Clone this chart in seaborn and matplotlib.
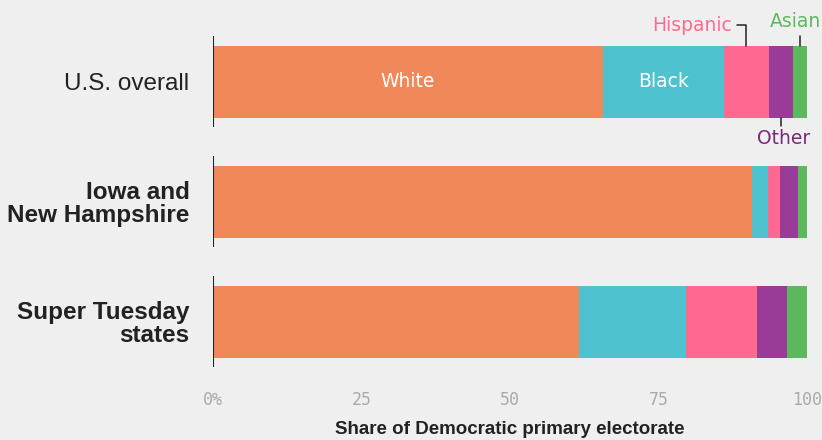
import pandas as pd
import numpy as np
import seaborn as sns
import matplotlib.pyplot as plt

# data (percent of Democratic primary electorate)
regions = ['U.S. overall', 'Iowa and\nNew Hampshire', 'Super Tuesday\nstates']
groups = ['White', 'Black', 'Hispanic', 'Other', 'Asian']
white = [65.6, 90.7, 61.7]
black = [20.4, 2.8, 17.9]
hispanic = [7.6, 2.0, 12.0]
other = [4.1, 3.0, 5.1]
asian = [2.3, 1.5, 3.3]
xticks = [0, 25, 50, 75, 100]
xtick_labels = ['0%', '25', '50', '75', '100']

colors = {'White': '#f0885a', 'Black': '#4ec3cf', 'Hispanic': '#ff6890',
          'Other': '#983c98', 'Asian': '#5cb85c'}
bg = '#efefef'

df = pd.DataFrame({'region': regions, 'White': white, 'Black': black,
                   'Hispanic': hispanic, 'Other': other, 'Asian': asian})
cum = df[groups].cumsum(axis=1)
cum['region'] = df['region']

sns.set_style('white')
plt.rcParams['font.family'] = ['Liberation Sans', 'DejaVu Sans']

fig = plt.figure(figsize=(8.22, 4.40), dpi=100, facecolor=bg)
ax = fig.add_axes([213/822, 1-372/440, (807-213)/822, (372-30)/440])
ax.set_facecolor(bg)

# draw from the longest cumulative segment down to White
for g in groups[::-1]:
  sns.barplot(data=cum, x=g, y='region', color=colors[g], orient='h',
              width=0.6, saturation=1, linewidth=0, ax=ax, zorder=2)

ax.set_xlim(0, 100)
ax.set_ylim(2.42, -0.43)
rows = np.arange(len(regions))
ax.vlines(np.zeros(len(regions)), rows-0.38, rows+0.38, color='#222222', lw=1.5, zorder=3)

for s in ax.spines.values():
  s.set_visible(False)

ax.set_xticks(xticks)
ax.set_xticklabels(xtick_labels, family='DejaVu Sans Mono', fontsize=12, color='#aaaaaa')
ax.tick_params(axis='x', length=0, pad=14)
ax.tick_params(axis='y', length=0, pad=17)
ax.set_xlabel('Share of Democratic primary electorate', fontsize=13.5,
              fontweight='bold', color='#222222', labelpad=8)
ax.set_ylabel('')
for i, lab in enumerate(ax.get_yticklabels()):
  lab.set_fontsize(17.5)
  lab.set_color('#222222')
  lab.set_linespacing(1.0)
  if i > 0:
    lab.set_fontweight('bold')

# segment labels on the U.S. overall bar
fs = 13.5
c0 = cum.iloc[0]
ax.text(c0['White']/2, 0, 'White', color='white', fontsize=fs,
        ha='center', va='center', family='DejaVu Sans', zorder=4)
ax.text((c0['White']+c0['Black'])/2, 0, 'Black', color='white', fontsize=fs,
        ha='center', va='center', family='DejaVu Sans', zorder=4)

hx = (c0['Black']+c0['Hispanic'])/2
ax.plot([hx-1.6, hx, hx], [-0.47, -0.47, -0.3], color='#222222', lw=1.1,
        clip_on=False, zorder=4)
ax.text(hx-2.5, -0.47, 'Hispanic', color=colors['Hispanic'], fontsize=fs,
        ha='right', va='center', family='DejaVu Sans', clip_on=False)

ax_ = (c0['Other']+c0['Asian'])/2
ax.plot([ax_, ax_], [-0.38, -0.3], color='#222222', lw=1.1, clip_on=False, zorder=4)
ax.text(ax_-0.8, -0.5, 'Asian', color=colors['Asian'], fontsize=fs,
        ha='center', va='center', family='DejaVu Sans', clip_on=False)

ox = (c0['Hispanic']+c0['Other'])/2
ax.plot([ox, ox], [0.3, 0.37], color='#222222', lw=1.1, zorder=4)
ax.text(ox+0.4, 0.47, 'Other', color='#7a2a7a', fontsize=fs,
        ha='center', va='center', family='DejaVu Sans', zorder=4)

fig.savefig('out.png', dpi=100, facecolor=bg)
